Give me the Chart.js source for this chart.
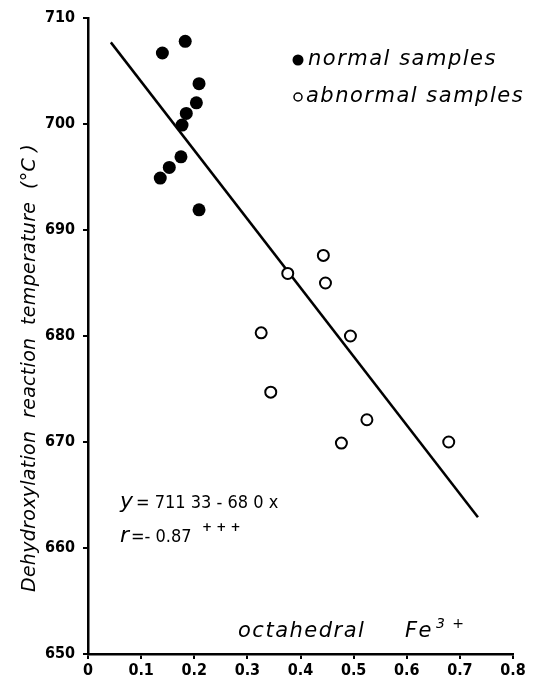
<!DOCTYPE html>
<html>
<head>
<meta charset="utf-8">
<script src="https://cdn.jsdelivr.net/npm/chart.js@4.4.1/dist/chart.umd.min.js"></script>
<style>
  html, body { margin: 0; padding: 0; background: #fff; }
  #wrap { width: 533px; height: 685px; }
</style>
</head>
<body>
<div id="wrap"><canvas id="chart" width="533" height="685"></canvas></div>
<script>
// data
const normalX = [0.140, 0.183, 0.209, 0.204, 0.185, 0.177, 0.175, 0.153, 0.136, 0.209];
const normalY = [706.7, 707.8, 703.8, 702.0, 701.0, 699.9, 696.9, 695.9, 694.9, 691.9];
const abnormalX = [0.443, 0.376, 0.447, 0.326, 0.494, 0.344, 0.525, 0.477, 0.679];
const abnormalY = [687.6, 685.9, 685.0, 680.3, 680.0, 674.7, 672.1, 669.9, 670.0];
// regression line ends (y = 711.33 - 68.0x as drawn)
const fitX = [0.043, 0.734];
const fitY = [707.7, 662.9];
const xTicks = [0, 0.1, 0.2, 0.3, 0.4, 0.5, 0.6, 0.7, 0.8];
const yTicks = [650, 660, 670, 680, 690, 700, 710];

const toPts = (xs, ys) => xs.map((x, i) => ({ x: x, y: ys[i] }));

const textFont = 'italic 300 21px "DejaVu Sans", sans-serif';

// extra text drawn straight on the canvas: legend, axis titles, equation
const annotations = {
  id: 'annotations',
  afterDraw(chart) {
    const ctx = chart.ctx;
    ctx.save();
    ctx.fillStyle = '#000';
    ctx.strokeStyle = '#000';
    ctx.textBaseline = 'middle';
    ctx.textAlign = 'left';

    // legend
    ctx.beginPath();
    ctx.arc(298, 60, 5.5, 0, Math.PI * 2);
    ctx.fill();
    ctx.lineWidth = 1.5;
    ctx.beginPath();
    ctx.arc(298, 97, 4, 0, Math.PI * 2);
    ctx.stroke();
    ctx.font = textFont;
    ctx.letterSpacing = '1.5px';
    ctx.fillText('normal samples', 308, 60);
    ctx.fillText('abnormal samples', 306, 97);

    // x title
    ctx.fillText('octahedral', 238, 632);
    ctx.fillText('Fe', 405, 632);
    ctx.font = 'italic 300 14px "DejaVu Sans", sans-serif';
    ctx.fillText('3 +', 436, 624);

    // equation
    ctx.letterSpacing = '0px';
    ctx.font = 'italic 300 22px "DejaVu Sans", sans-serif';
    ctx.fillText('y', 120, 502);
    ctx.fillText('r', 120, 536);
    ctx.font = '18px "DejaVu Sans Condensed", "Liberation Sans Narrow", sans-serif';
    ctx.fillText('= 711 33 - 68 0 x', 136, 503);
    ctx.fillText('=- 0.87', 131, 537);
    ctx.font = 'bold 12px "DejaVu Sans", sans-serif';
    ctx.fillText('+ + +', 202, 528);

    // y title
    ctx.translate(30, 368);
    ctx.rotate(-Math.PI / 2);
    ctx.textAlign = 'center';
    ctx.font = 'italic 300 19px "DejaVu Sans", sans-serif';
    ctx.letterSpacing = '0.3px';
    ctx.fillText('Dehydroxylation  reaction  temperature  (°C )', 0, 0);
    ctx.restore();
  }
};

const tickFont = { family: '"DejaVu Sans Condensed", "Liberation Sans Narrow", sans-serif', size: 16, weight: 'bold' };

new Chart(document.getElementById('chart').getContext('2d'), {
  type: 'scatter',
  data: {
    datasets: [
      {
        label: 'normal samples',
        data: toPts(normalX, normalY),
        pointRadius: 6.5,
        pointBackgroundColor: '#000',
        pointBorderColor: '#000',
        pointBorderWidth: 0
      },
      {
        label: 'abnormal samples',
        data: toPts(abnormalX, abnormalY),
        pointRadius: 5.5,
        pointBackgroundColor: '#fff',
        pointBorderColor: '#000',
        pointBorderWidth: 2
      },
      {
        type: 'line',
        label: 'fit',
        data: toPts(fitX, fitY),
        showLine: true,
        borderColor: '#000',
        borderWidth: 2.5,
        pointRadius: 0,
        fill: false
      }
    ]
  },
  options: {
    responsive: false,
    animation: false,
    layout: { padding: { top: 18, right: 20, left: 0, bottom: 0 } },
    plugins: { legend: { display: false }, tooltip: { enabled: false } },
    scales: {
      x: {
        type: 'linear',
        min: 0,
        max: 0.8,
        afterBuildTicks: (s) => { s.ticks = xTicks.map(v => ({ value: v })); },
        afterFit: (s) => { s.height = 31; },
        border: { color: '#000', width: 2.5 },
        grid: { drawOnChartArea: false, drawTicks: true, tickLength: 5, color: '#000', lineWidth: 2 },
        ticks: {
          color: '#000',
          font: tickFont,
          padding: 2,
          maxRotation: 0,
          callback: (v) => v === 0 ? '0' : v.toFixed(1)
        }
      },
      y: {
        type: 'linear',
        min: 650,
        max: 710,
        afterBuildTicks: (s) => { s.ticks = yTicks.map(v => ({ value: v })); },
        afterFit: (s) => { s.width = 88; },
        border: { color: '#000', width: 2.5 },
        grid: { drawOnChartArea: false, drawTicks: true, tickLength: 5, color: '#000', lineWidth: 2 },
        ticks: { color: '#000', font: tickFont, padding: 8 }
      }
    }
  },
  plugins: [annotations]
});
</script>
</body>
</html>
